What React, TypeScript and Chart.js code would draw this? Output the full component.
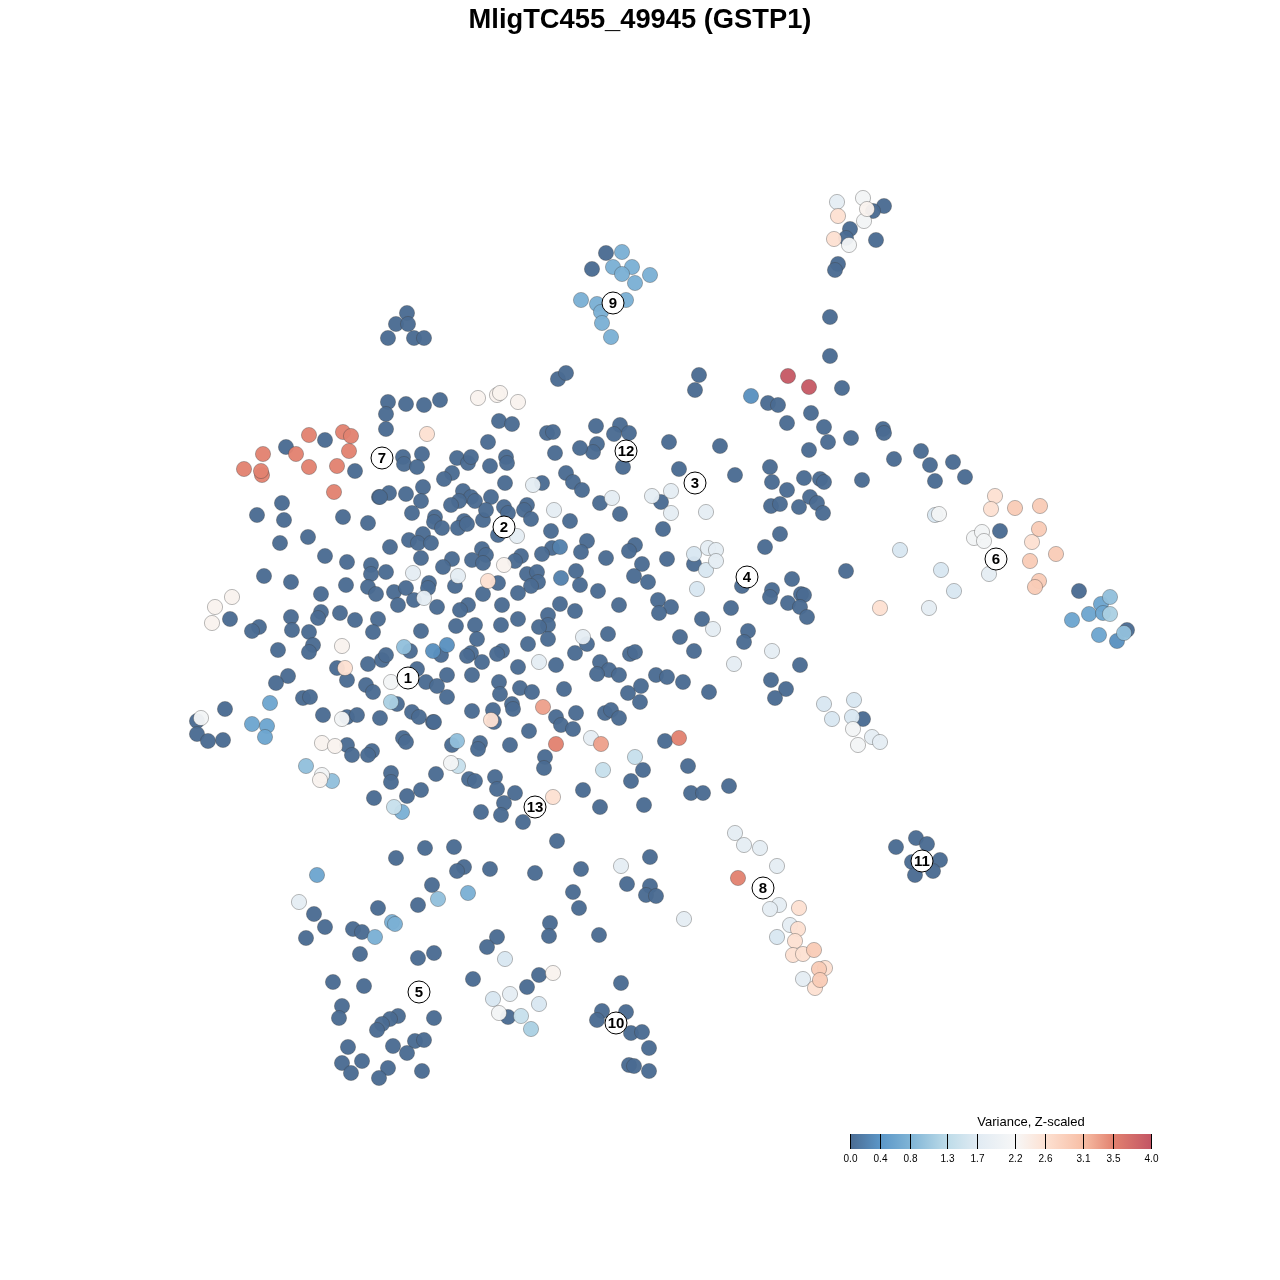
import React, { useEffect, useRef } from "react";
import { Chart, registerables } from "chart.js";

Chart.register(...registerables);

const chartTitle = "MligTC455_49945 (GSTP1)";
const legendTitle = "Variance, Z-scaled";
const legendTicks = [0.0, 0.4, 0.8, 1.3, 1.7, 2.2, 2.6, 3.1, 3.5, 4.0];

const paletteValues = [0, 0.4, 0.8, 1.3, 1.7, 2.2, 2.6, 3.1, 3.5, 4.0];
const paletteColors = [
  [74, 107, 146], [91, 150, 199], [127, 180, 214], [190, 220, 233], [225, 235, 243],
  [247, 247, 247], [253, 225, 210], [247, 190, 165], [226, 130, 112], [195, 85, 100],
];

type P = [number, number];

const v00: P[] = [
  [884,206],[873,211],[850,229],[846,238],[876,240],[838,264],[835,270],[830,317],[830,356],[842,388],
  [606,253],[592,269],[407,313],[396,324],[408,324],[388,338],[414,338],[424,338],[558,379],[566,373],[699,375],[695,390],
  [388,402],[406,404],[424,405],[440,400],[386,414],[386,429],[325,440],[286,447],[403,457],[404,464],[422,454],[417,467],[355,471],[457,458],[468,463],[471,457],[452,473],[444,479],[423,487],[389,493],[379,497],[380,497],[406,494],[421,501],[463,491],[471,497],[459,501],[451,505],[475,501],[282,503],[257,515],[284,520],[343,517],[368,523],[412,513],[435,517],[434,522],[442,528],[464,521],[458,528],[467,524],[483,520],[308,537],[280,543],[390,547],[423,534],[409,540],[418,543],[431,543],[325,556],[347,562],[421,558],[452,559],[443,567],[472,560],[482,549],[486,555],[483,563],[371,565],[386,572],[371,574],[264,576],[291,582],[346,585],[368,587],[376,594],[394,592],[406,588],[429,583],[428,588],[455,586],[321,594],[398,605],[414,600],[437,607],[468,605],[460,610],[230,619],[291,617],[321,612],[318,618],[340,613],[355,620],[378,619],[259,627],[252,631],[292,630],[309,632],[373,632],[456,626],[475,625],[421,631],[278,650],[313,645],[309,652],[477,639],[410,651],[471,653],[467,656],[441,655],[368,664],[382,660],[386,655],[337,668],[482,662],[417,669],[347,680],[288,676],[276,683],[426,682],[447,675],[472,675],
  [499,421],[512,424],[488,442],[547,433],[553,432],[596,426],[620,425],[614,434],[629,433],[669,442],[720,446],[597,444],[593,452],[580,448],[555,453],[506,457],[507,463],[490,466],[623,467],[679,469],[505,483],[542,483],[566,473],[573,482],[582,490],[491,497],[486,510],[504,507],[508,513],[527,505],[524,510],[531,519],[570,521],[600,503],[661,502],[620,514],[663,529],[498,535],[551,531],[587,541],[635,545],[629,551],[581,552],[552,548],[542,554],[606,558],[667,559],[694,564],[642,564],[521,556],[515,561],[527,574],[537,572],[538,582],[531,586],[576,571],[580,585],[634,576],[648,582],[598,591],[498,583],[518,593],[483,594],[502,605],[560,604],[575,611],[619,605],[658,600],[671,607],[659,613],[731,608],[548,615],[548,625],[539,627],[518,619],[501,625],[702,619],[548,639],[528,644],[608,634],[587,644],[680,637],[575,653],[630,654],[635,652],[694,651],[502,651],[497,654],[518,667],[556,665],[600,662],[609,670],[597,674],[619,675],[656,675],[667,677],[683,682],[499,682],
  [366,685],[373,692],[303,698],[310,697],[447,697],[437,686],[397,704],[323,715],[225,709],[197,721],[197,734],[208,741],[223,740],[347,717],[357,715],[380,718],[412,712],[419,717],[433,722],[472,711],[347,745],[352,755],[372,751],[368,755],[403,738],[406,742],[452,745],[480,743],[478,749],[391,773],[391,782],[436,774],[469,779],[475,781],[421,790],[407,796],[374,798],[481,812],[425,848],[454,847],[396,858],[464,867],[457,871],[432,885],[418,905],[378,908],[314,914],[325,927],[353,929],[362,932],
  [500,694],[520,688],[532,692],[564,689],[628,693],[641,686],[640,702],[709,692],[493,710],[512,704],[513,709],[434,722],[494,722],[529,731],[556,717],[561,725],[576,713],[573,729],[605,713],[611,710],[619,718],[665,741],[510,745],[545,757],[544,768],[688,766],[643,770],[631,781],[495,777],[497,789],[515,793],[583,790],[691,793],[703,793],[729,786],[504,803],[501,815],[523,822],[600,807],[644,805],[557,841],[650,857],[490,869],[535,873],[581,869],[627,884],[650,886],[646,895],[656,896],[573,892],[579,908],[550,923],[599,935],
  [768,403],[778,405],[811,413],[787,423],[824,427],[828,442],[809,450],[851,438],[883,429],[884,433],[894,459],[921,451],[930,465],[953,462],[935,481],[965,477],[735,475],[770,467],[772,482],[787,490],[804,478],[820,479],[824,482],[862,480],[810,497],[817,503],[771,506],[780,504],[799,507],[823,513],[780,534],[765,547],[846,571],[772,590],[770,597],[792,579],[801,594],[804,595],[788,603],[800,607],[807,617],[742,586],[748,631],[744,642],[800,665],[771,680],[786,689],[775,698],[863,719],[1000,531],[1079,591],[1127,630],
  [916,838],[927,844],[896,847],[912,862],[925,862],[940,860],[933,871],[915,875],
  [549,936],[497,937],[487,947],[434,953],[418,958],[360,954],[333,982],[364,986],[473,979],[539,975],[527,987],[621,983],[342,1006],[339,1018],[398,1016],[434,1018],[390,1019],[382,1024],[377,1030],[508,1017],[602,1011],[626,1012],[597,1020],[631,1033],[642,1032],[649,1048],[348,1047],[393,1046],[415,1041],[424,1040],[407,1053],[342,1063],[362,1061],[351,1073],[388,1068],[379,1078],[422,1071],[629,1065],[634,1066],[649,1071],[306,938],
];
const v02: P[] = [[561,578],[560,547]];
const v03: P[] = [[433,651],[447,645],[751,396],[1117,641]];
const v06: P[] = [[270,703],[252,724],[267,726],[265,737],[317,875],[1072,620],[1089,614],[1099,635],[1101,604],[1103,613]];
const v07: P[] = [[468,893],[392,922],[395,924],[375,937],[402,812],[622,252],[613,267],[632,267],[622,274],[650,275],[635,283],[581,300],[597,304],[626,300],[601,312],[602,323],[611,337]];
const v09: P[] = [[404,647],[306,766],[332,781],[457,741],[438,899],[1110,597],[1124,633]];
const v11: P[] = [[1110,614],[391,702],[531,1029]];
const v14: P[] = [[635,757],[603,770],[394,807],[458,766],[521,1016]];
const v16: P[] = [[694,554],[706,570],[697,589],[900,550],[941,570],[505,959],[493,999],[539,1004],[824,704],[854,700],[832,719],[852,717],[954,591],[935,515],[777,937]];
const v18: P[] = [[413,573],[458,576],[424,598],[533,485],[554,510],[612,498],[652,496],[671,491],[671,513],[706,512],[517,536],[708,548],[716,550],[716,561],[713,629],[583,637],[539,662],[299,902],[591,738],[621,866],[684,919],[772,651],[734,664],[837,202],[989,574],[510,994],[872,737],[880,742],[735,833],[744,845],[760,848],[777,866],[779,905],[770,909],[790,925],[803,979],[929,608]];
const v21: P[] = [[391,682],[342,719],[201,718],[322,775],[451,763],[863,198],[864,221],[849,245],[974,538],[982,532],[984,541],[939,514],[853,729],[858,745],[499,1013]];
const v23: P[] = [[232,597],[215,607],[212,623],[342,646],[478,398],[497,395],[500,393],[518,402],[322,743],[335,746],[320,780],[504,565],[553,973],[867,209]];
const v26: P[] = [[345,668],[427,434],[488,581],[491,720],[553,797],[838,216],[834,239],[995,496],[991,509],[1032,542],[880,608],[799,908],[798,929],[795,941],[793,955],[803,954],[825,968],[815,988]];
const v29: P[] = [[1015,508],[1040,506],[1039,529],[1056,554],[1030,561],[1039,581],[1035,587],[814,950],[819,969],[820,980]];
const v32: P[] = [[543,707],[601,744]];
const v34: P[] = [[309,435],[343,432],[351,436],[263,454],[296,454],[349,451],[309,467],[337,466],[244,469],[262,475],[261,471],[334,492],[556,744],[679,738],[738,878]];
const v39: P[] = [[788,376],[809,387]];

const bandValues = [0, 0.2, 0.35, 0.6, 0.75, 0.95, 1.15, 1.4, 1.6, 1.8, 2.1, 2.3, 2.6, 2.9, 3.3, 3.5, 3.95];
const bandPoints = [v00, v02, v03, v06, v07, v09, v11, v14, v16, v18, v21, v23, v26, v29, v32, v34, v39];

const clusterNames = ["1", "2", "3", "4", "5", "6", "7", "8", "9", "10", "11", "12", "13"];
const clusterX = [408, 504, 695, 747, 419, 996, 382, 763, 613, 616, 922, 626, 535];
const clusterY = [678, 527, 483, 577, 992, 559, 458, 888, 303, 1023, 861, 451, 807];

function colorFor(v: number, alpha = 1): string {
  let i = 0;
  while (i < paletteValues.length - 2 && v > paletteValues[i + 1]) i++;
  const t = Math.min(1, Math.max(0, (v - paletteValues[i]) / (paletteValues[i + 1] - paletteValues[i])));
  const c = paletteColors[i].map((a, k) => Math.round(a + (paletteColors[i + 1][k] - a) * t));
  return `rgba(${c[0]},${c[1]},${c[2]},${alpha})`;
}

const FONT = '"Liberation Sans", Arial, sans-serif';

const overlayPlugin = {
  id: "overlay",
  afterDatasetsDraw(chart: any) {
    const ctx = chart.ctx as CanvasRenderingContext2D;
    const xs = chart.scales.x;
    const ys = chart.scales.y;
    ctx.save();
    // cluster labels
    ctx.fillStyle = "#000";
    ctx.font = `bold 15px ${FONT}`;
    ctx.textAlign = "center";
    ctx.textBaseline = "middle";
    clusterNames.forEach((n, i) => {
      ctx.fillText(n, xs.getPixelForValue(clusterX[i]), ys.getPixelForValue(clusterY[i]) + 0.5);
    });
    // colour bar
    const left = xs.getPixelForValue(850);
    const right = xs.getPixelForValue(1151);
    const top = ys.getPixelForValue(1134);
    const bottom = ys.getPixelForValue(1149);
    const maxV = legendTicks[legendTicks.length - 1];
    const grad = ctx.createLinearGradient(left, 0, right, 0);
    paletteValues.forEach((v) => grad.addColorStop(v / maxV, colorFor(v)));
    ctx.fillStyle = grad;
    ctx.fillRect(left, top, right - left, bottom - top);
    ctx.strokeStyle = "#000";
    ctx.lineWidth = 1;
    ctx.fillStyle = "#000";
    ctx.font = `10px ${FONT}`;
    legendTicks.forEach((v) => {
      const px = Math.floor(left + (v / maxV) * (right - left)) + 0.5;
      ctx.beginPath();
      ctx.moveTo(px, top);
      ctx.lineTo(px, bottom);
      ctx.stroke();
      ctx.fillText(v.toFixed(1), px, ys.getPixelForValue(1159.5));
    });
    ctx.font = `13px ${FONT}`;
    ctx.fillText(legendTitle, xs.getPixelForValue(1031), ys.getPixelForValue(1122.5));
    ctx.restore();
  },
};

export default function App() {
  const ref = useRef<HTMLCanvasElement | null>(null);
  useEffect(() => {
    if (!ref.current) return;
    const datasets: any[] = bandPoints.map((pts, i) => ({
      label: `v${bandValues[i]}`,
      data: pts.map(([x, y]) => ({ x, y })),
      backgroundColor: colorFor(bandValues[i], 0.96),
      borderColor: "rgba(60,60,60,0.35)",
      borderWidth: 1,
      pointRadius: 7.6,
      pointHoverRadius: 7.6,
      order: bandPoints.length - i + 1,
    }));
    datasets.push({
      label: "clusters",
      data: clusterX.map((x, i) => ({ x, y: clusterY[i] })),
      backgroundColor: "#fff",
      borderColor: "#000",
      borderWidth: 1,
      pointRadius: 11,
      pointHoverRadius: 11,
      order: 0,
    });
    const chart = new Chart(ref.current, {
      type: "scatter",
      data: { datasets },
      plugins: [overlayPlugin],
      options: {
        animation: false,
        responsive: false,
        layout: { padding: 0, autoPadding: false },
        scales: {
          x: { type: "linear", display: false, min: 0, max: 1280 },
          y: { type: "linear", display: false, min: 36, max: 1280, reverse: true },
        },
        plugins: {
          legend: { display: false },
          tooltip: { enabled: false },
          title: {
            display: true,
            text: chartTitle,
            color: "#000",
            font: { family: FONT, size: 27.3, weight: "bold", lineHeight: 32 / 27.3 },
            padding: { top: 4, bottom: 0 },
          },
        },
      },
    } as any);
    return () => chart.destroy();
  }, []);
  return (
    <canvas
      ref={ref}
      width={1280}
      height={1280}
      style={{ position: "absolute", left: 0, top: 0, width: 1280, height: 1280 }}
    />
  );
}
